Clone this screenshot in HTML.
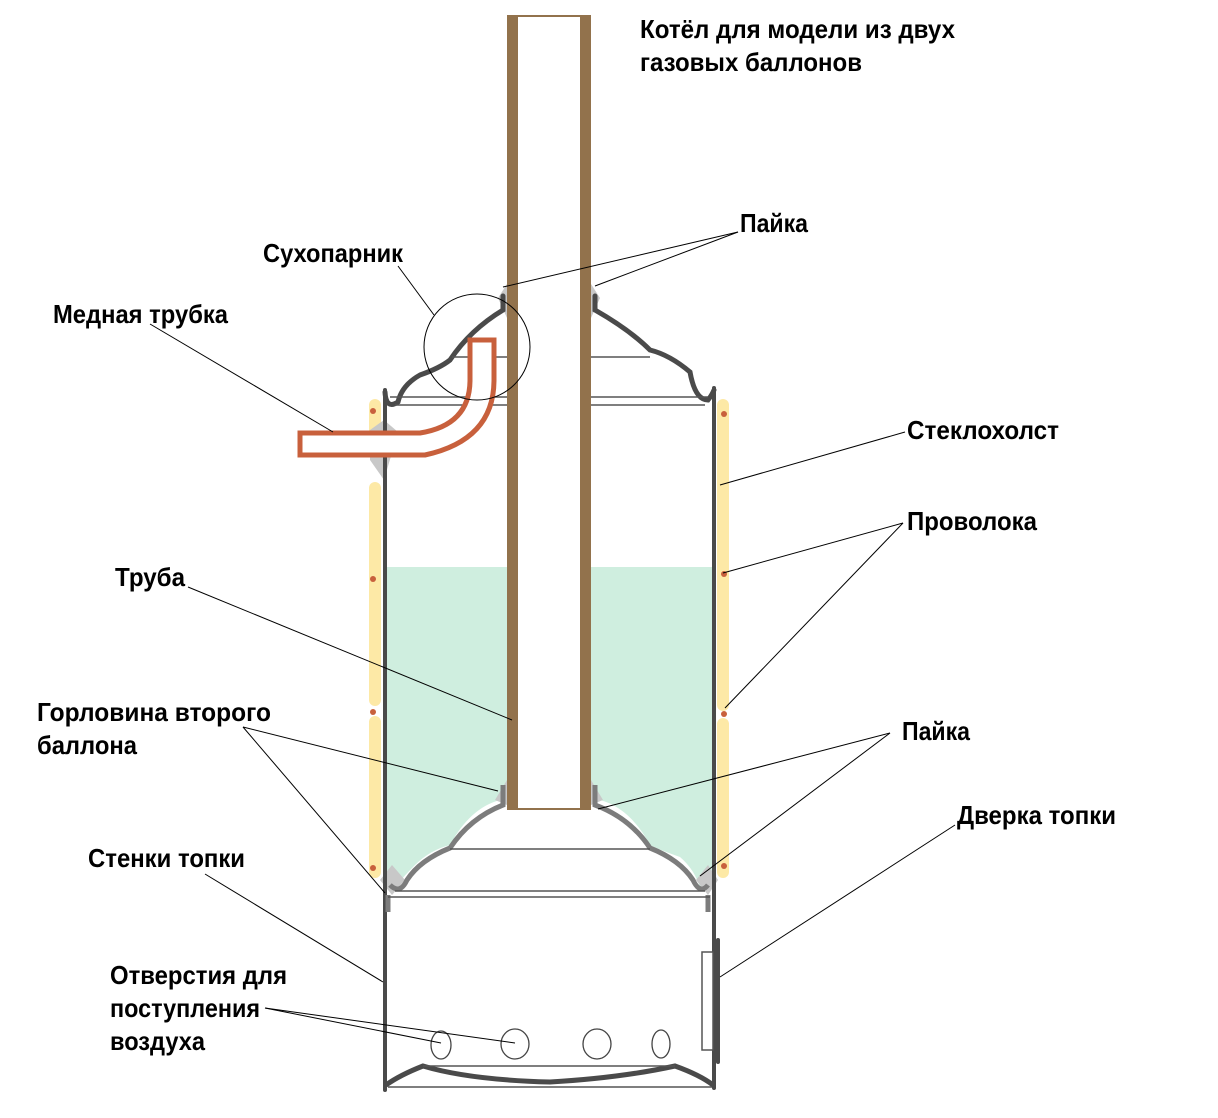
<!DOCTYPE html>
<html><head><meta charset="utf-8"><style>
html,body{margin:0;padding:0;background:#fff;}
svg{display:block;}
text{font-family:"Liberation Sans Narrow","Liberation Sans",sans-serif;font-weight:bold;font-size:26px;fill:#000;}
</style></head><body>
<svg width="1218" height="1118" viewBox="0 0 1218 1118" xmlns="http://www.w3.org/2000/svg">
<path d="M387 567 H507 V790 L500 800 Q470 808 450 845 Q430 850 415 865 Q400 880 395 888 L387 885 Z" fill="#cfeedf"/>
<path d="M591 567 H712 V885 L700 888 Q695 870 680 857 Q660 850 650 845 Q630 808 600 800 L591 790 Z" fill="#cfeedf"/>
<g fill="#fde9a6">
<rect x="369" y="399" width="12" height="56" rx="6"/>
<rect x="369" y="482" width="12" height="224" rx="6"/>
<rect x="369" y="716" width="12" height="162" rx="6"/>
<rect x="717" y="399" width="12" height="312" rx="6"/>
<rect x="717" y="718" width="12" height="160" rx="6"/>
</g>
<g fill="#c8603c">
<circle cx="373" cy="411" r="3"/><circle cx="373" cy="579" r="3"/><circle cx="373" cy="712" r="3"/><circle cx="373" cy="868" r="3"/>
<circle cx="724" cy="414" r="3"/><circle cx="724" cy="574" r="3"/><circle cx="724" cy="714" r="3"/><circle cx="724" cy="866" r="3"/>
</g>
<g fill="#c8c8c8">
<polygon points="370,430 384,420 398,432 384,480 370,460"/>
<polygon points="498,298 507,284 507,318"/>
<polygon points="600,298 591,284 591,318"/>
<polygon points="495,800 507,780 507,805"/>
<polygon points="603,800 591,780 591,805"/>
<polygon points="380,880 392,865 405,880 392,895"/>
<polygon points="696,880 708,865 718,880 708,895"/>
</g>
<g stroke="#4a4a4a" stroke-width="4" fill="none" stroke-linecap="round">
<line x1="385" y1="390" x2="385" y2="1090"/>
<line x1="714" y1="388" x2="714" y2="1088"/>
<line x1="718" y1="940" x2="718" y2="1062"/>
<path stroke-width="5" d="M385 392 Q386 410 398 402 Q402 385 420 375 Q440 368 450 360 Q470 330 503 310 L503 296"/>
<path stroke-width="5" d="M595 296 L595 310 Q630 330 650 350 Q670 355 690 372 Q695 400 708 400 Q712 395 714 390"/>
<path stroke-width="5" d="M386 1085 Q400 1075 423 1066 Q470 1080 550 1082 Q620 1078 675 1066 Q700 1075 713 1085"/>
</g>
<g stroke="#7c7c7c" stroke-width="5" fill="none">
<path d="M390 885 Q400 895 407 880 Q420 860 450 848 Q470 818 503 805 L503 785"/>
<path d="M595 785 L595 805 Q630 818 650 848 Q680 860 693 880 Q700 895 708 885"/>
<line x1="388" y1="895" x2="388" y2="912"/>
<line x1="708" y1="895" x2="708" y2="912"/>
</g>
<g stroke="#555" stroke-width="1.5">
<line x1="390" y1="397" x2="507" y2="397"/><line x1="591" y1="397" x2="708" y2="397"/>
<line x1="395" y1="405" x2="507" y2="405"/><line x1="591" y1="405" x2="705" y2="405"/>
<line x1="452" y1="357" x2="507" y2="357"/><line x1="591" y1="357" x2="650" y2="357"/>
<line x1="450" y1="849" x2="650" y2="849"/>
<line x1="395" y1="891" x2="705" y2="891"/>
<line x1="388" y1="897" x2="710" y2="897"/>
<line x1="423" y1="1066" x2="675" y2="1066"/>
<line x1="388" y1="1087" x2="712" y2="1087"/>
</g>
<rect x="702" y="952" width="11" height="98" fill="#fff" stroke="#555" stroke-width="1.5"/>
<g fill="none" stroke="#444" stroke-width="1.3">
<ellipse cx="441" cy="1045" rx="10" ry="14"/>
<ellipse cx="515" cy="1044" rx="14" ry="15"/>
<ellipse cx="597" cy="1044" rx="14" ry="15"/>
<ellipse cx="661" cy="1044" rx="9" ry="14"/>
</g>
<rect x="507" y="15" width="84" height="795" fill="#fff"/>
<rect x="507" y="15" width="11" height="795" fill="#92724c"/>
<rect x="580" y="15" width="11" height="795" fill="#92724c"/>
<line x1="507" y1="16" x2="591" y2="16" stroke="#92724c" stroke-width="2"/>
<line x1="507" y1="809" x2="591" y2="809" stroke="#92724c" stroke-width="2"/>
<path d="M300 433 H420 Q470 425 470 380 V340 H494 V380 Q494 440 425 455 H300 Z" fill="#fff" stroke="#c8603c" stroke-width="5"/>
<circle cx="477" cy="347" r="53" fill="none" stroke="#000" stroke-width="1"/>
<g stroke="#000" stroke-width="1">
<line x1="738" y1="232" x2="503" y2="287"/><line x1="738" y1="232" x2="595" y2="286"/>
<line x1="398" y1="266" x2="434" y2="315"/>
<line x1="150" y1="324" x2="333" y2="432"/>
<line x1="905" y1="432" x2="720" y2="485"/>
<line x1="903" y1="523" x2="723" y2="573"/><line x1="903" y1="523" x2="725" y2="708"/>
<line x1="188" y1="587" x2="512" y2="720"/>
<line x1="243" y1="727" x2="498" y2="791"/><line x1="243" y1="727" x2="385" y2="893"/>
<line x1="890" y1="733" x2="598" y2="809"/><line x1="890" y1="733" x2="700" y2="876"/>
<line x1="955" y1="825" x2="720" y2="977"/>
<line x1="205" y1="874" x2="383" y2="982"/>
<line x1="265" y1="1008" x2="441" y2="1043"/><line x1="265" y1="1008" x2="515" y2="1043"/>
</g>
<text x="640" y="38" textLength="315" lengthAdjust="spacingAndGlyphs">Котёл для модели из двух</text>
<text x="640" y="71" textLength="222" lengthAdjust="spacingAndGlyphs">газовых баллонов</text>
<text x="740" y="232" textLength="68" lengthAdjust="spacingAndGlyphs">Пайка</text>
<text x="263" y="262" textLength="140" lengthAdjust="spacingAndGlyphs">Сухопарник</text>
<text x="53" y="323" textLength="175" lengthAdjust="spacingAndGlyphs">Медная трубка</text>
<text x="907" y="439" textLength="152" lengthAdjust="spacingAndGlyphs">Стеклохолст</text>
<text x="907" y="530" textLength="130" lengthAdjust="spacingAndGlyphs">Проволока</text>
<text x="115" y="586" textLength="70" lengthAdjust="spacingAndGlyphs">Труба</text>
<text x="37" y="721" textLength="234" lengthAdjust="spacingAndGlyphs">Горловина второго</text>
<text x="37" y="754" textLength="100" lengthAdjust="spacingAndGlyphs">баллона</text>
<text x="902" y="740" textLength="68" lengthAdjust="spacingAndGlyphs">Пайка</text>
<text x="957" y="824" textLength="159" lengthAdjust="spacingAndGlyphs">Дверка топки</text>
<text x="88" y="867" textLength="157" lengthAdjust="spacingAndGlyphs">Стенки топки</text>
<text x="110" y="984" textLength="177" lengthAdjust="spacingAndGlyphs">Отверстия для</text>
<text x="110" y="1017" textLength="150" lengthAdjust="spacingAndGlyphs">поступления</text>
<text x="110" y="1050" textLength="95" lengthAdjust="spacingAndGlyphs">воздуха</text>
</svg>
</body></html>
